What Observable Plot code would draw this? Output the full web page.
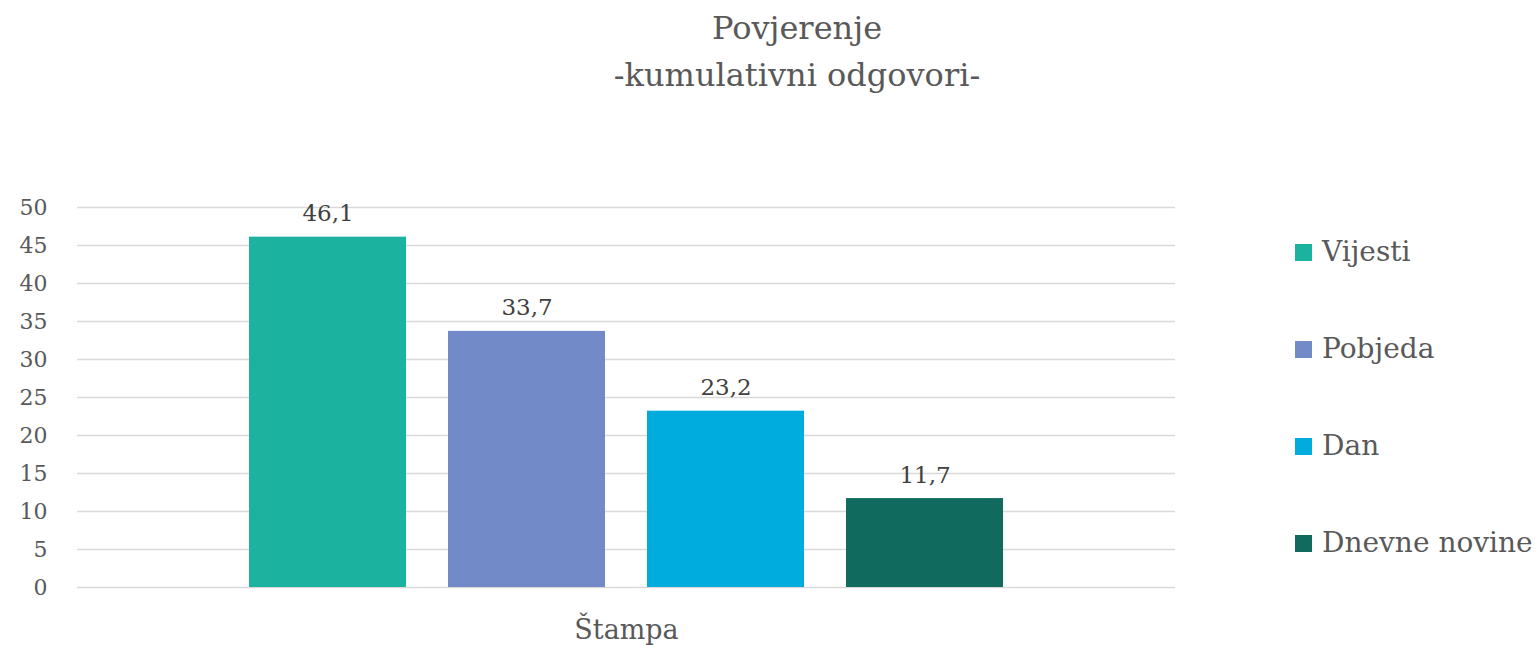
<!DOCTYPE html>
<html>
<head>
<meta charset="utf-8">
<script src="https://cdn.jsdelivr.net/npm/d3@7"></script>
<script src="https://cdn.jsdelivr.net/npm/@observablehq/plot@0.6"></script>
<style>
  body { margin: 0; background: #fff; }
  #wrap { position: relative; width: 1537px; height: 645px; font-family: "DejaVu Serif", serif; }
  #head { position: relative; height: 150px; }
  .t { position: absolute; left: 497px; width: 600px; text-align: center; color: #595959; font-size: 32px; line-height: 40px; }
  #legend { position: absolute; left: 1295px; top: 0; }
  .li { position: absolute; left: 0; white-space: nowrap; color: #595959; font-size: 28px; line-height: 40px; height: 40px; }
  .sw { position: absolute; left: 0; top: 12px; width: 17px; height: 17px; }
  .lt { position: absolute; left: 27px; top: 0; }
</style>
</head>
<body>
<div id="wrap">
  <div id="head">
    <div class="t" style="top:8px">Povjerenje</div>
    <div class="t" style="top:55px">-kumulativni odgovori-</div>
  </div>
  <div id="chart"></div>
  <div id="legend"></div>
</div>
<script>
const group = "Štampa";
const series = ["Vijesti", "Pobjeda", "Dan", "Dnevne novine"];
const values = [46.1, 33.7, 23.2, 11.7];
const colors = ["#1bb3a0", "#738ac8", "#00acdd", "#106a5e"];
const yTicks = [0, 5, 10, 15, 20, 25, 30, 35, 40, 45, 50];

const data = series.map((s, i) => ({group, name: s, value: values[i]}));
const fmt = d => String(d.value).replace(".", ",");

const chart = Plot.plot({
  width: 1537,
  height: 495,
  marginTop: 57,
  marginBottom: 58,
  marginLeft: 77,
  marginRight: 362,
  style: {fontFamily: '"DejaVu Serif", serif', background: "#fff"},
  fx: {domain: [group], label: null, padding: 0},
  x: {domain: series, axis: null, paddingInner: 0.211, paddingOuter: 0.864},
  y: {domain: [0, 50], label: null},
  color: {domain: series, range: colors},
  marks: [
    Plot.gridY(yTicks, {stroke: "#d9d9d9", strokeOpacity: 1, strokeWidth: 1.5}),
    Plot.axisY(yTicks, {tickSize: 0, tickPadding: 30, fontSize: 22, color: "#595959", label: null}),
    Plot.barY(data, {fx: "group", x: "name", y: "value", fill: "name"}),
    Plot.text(data, {fx: "group", x: "name", y: "value", text: fmt, lineAnchor: "bottom", dy: -16, fontSize: 23, fill: "#404040"}),
    Plot.axisFx({anchor: "bottom", tickSize: 0, tickPadding: 32, fontSize: 27, color: "#595959", label: null})
  ]
});
document.getElementById("chart").appendChild(chart);

const legend = document.getElementById("legend");
const centers = [252, 349, 446, 543];
series.forEach((s, i) => {
  const item = document.createElement("div");
  item.className = "li";
  item.style.top = (centers[i] - 20) + "px";
  const sw = document.createElement("div");
  sw.className = "sw";
  sw.style.background = colors[i];
  const t = document.createElement("div");
  t.className = "lt";
  t.textContent = s;
  item.appendChild(sw);
  item.appendChild(t);
  legend.appendChild(item);
});
</script>
</body>
</html>
